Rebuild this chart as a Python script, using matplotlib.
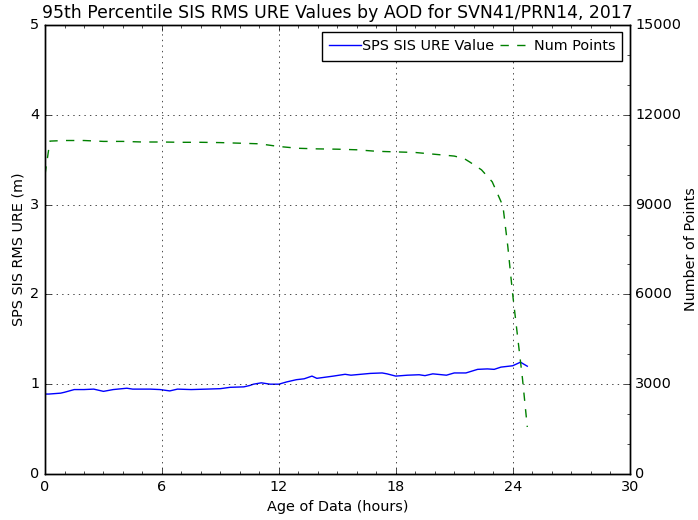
import matplotlib
matplotlib.use("Agg")
import matplotlib.pyplot as plt
from matplotlib.ticker import MultipleLocator

plt.style.use("classic")

# age of data (hours) and 95th percentile URE (m)
aod_ure = [0.0, 0.2, 0.8, 1.0, 1.5, 2.0, 2.5, 3.0, 3.5, 4.2, 4.5, 5.4, 5.9, 6.4, 6.8,
           7.5, 8.3, 9.0, 9.5, 10.2, 10.5, 10.7, 11.1, 11.55, 12.0, 12.4, 12.9, 13.3,
           13.7, 13.95, 14.8, 15.4, 15.7, 16.7, 17.3, 17.55, 18.0, 18.6, 19.2, 19.5,
           19.9, 20.6, 21.0, 21.6, 22.2, 22.7, 23.05, 23.4, 24.0, 24.4, 24.75]
ure = [0.89, 0.89, 0.90, 0.91, 0.94, 0.94, 0.945, 0.92, 0.94, 0.955, 0.945, 0.945,
       0.94, 0.925, 0.945, 0.94, 0.945, 0.95, 0.965, 0.97, 0.985, 1.0, 1.015, 1.0,
       1.0, 1.025, 1.05, 1.06, 1.09, 1.065, 1.09, 1.11, 1.10, 1.12, 1.125, 1.115,
       1.09, 1.10, 1.105, 1.095, 1.115, 1.10, 1.125, 1.125, 1.165, 1.17, 1.165,
       1.19, 1.205, 1.245, 1.20]

# number of points per AOD bin
aod_num = [0.0, 0.25, 1.0, 2.0, 3.0, 4.0, 5.0, 6.0, 7.0, 8.0, 9.0, 10.0, 11.0, 12.0,
           13.0, 14.0, 15.0, 16.0, 17.0, 18.0, 19.0, 20.0, 21.0, 21.5, 21.8, 22.4,
           22.95, 23.25, 23.5, 23.75, 24.0, 24.25, 24.5, 24.75]
num_pts = [10000, 11120, 11140, 11140, 11110, 11110, 11090, 11090, 11080, 11080,
           11070, 11050, 11030, 10940, 10880, 10860, 10850, 10830, 10780, 10760,
           10740, 10680, 10620, 10540, 10420, 10160, 9760, 9320, 8950, 7600, 6000,
           4600, 3200, 1570]

fig = plt.figure(figsize=(6.98, 5.2), dpi=100, facecolor="white")
ax = fig.add_axes([0.0645, 0.0885, 0.8375, 0.8635])
ax2 = ax.twinx()

l1, = ax.plot(aod_ure, ure, "b-", label="SPS SIS URE Value")
l2, = ax2.plot(aod_num, num_pts, "g--", label="Num Points")

ax.set_xlim(0, 30)
ax.set_ylim(0, 5)
ax2.set_ylim(0, 15000)
ax.xaxis.set_major_locator(MultipleLocator(6))
ax.xaxis.set_minor_locator(MultipleLocator(1))
ax.yaxis.set_major_locator(MultipleLocator(1))
ax2.yaxis.set_major_locator(MultipleLocator(3000))
ax2.yaxis.set_minor_locator(MultipleLocator(1000))
ax.grid(True)

ax.set_title("95th Percentile SIS RMS URE Values by AOD for SVN41/PRN14, 2017", fontsize=12.4)
ax.set_xlabel("Age of Data (hours)", fontsize=10.4)
ax.set_ylabel("SPS SIS RMS URE (m)", fontsize=10.4, labelpad=3.7)
ax2.set_ylabel("Number of Points", fontsize=10.4, labelpad=1.7)
for a in (ax, ax2):
    a.tick_params(labelsize=10.4, pad=4)

ax.legend([l1, l2], [l1.get_label(), l2.get_label()], loc="upper right", ncol=2,
          fontsize=10.4, borderpad=0.5, handlelength=2.2, handletextpad=0.1,
          columnspacing=0.4, borderaxespad=0.5, numpoints=1)

fig.savefig("out.png", dpi=100, facecolor="white")
